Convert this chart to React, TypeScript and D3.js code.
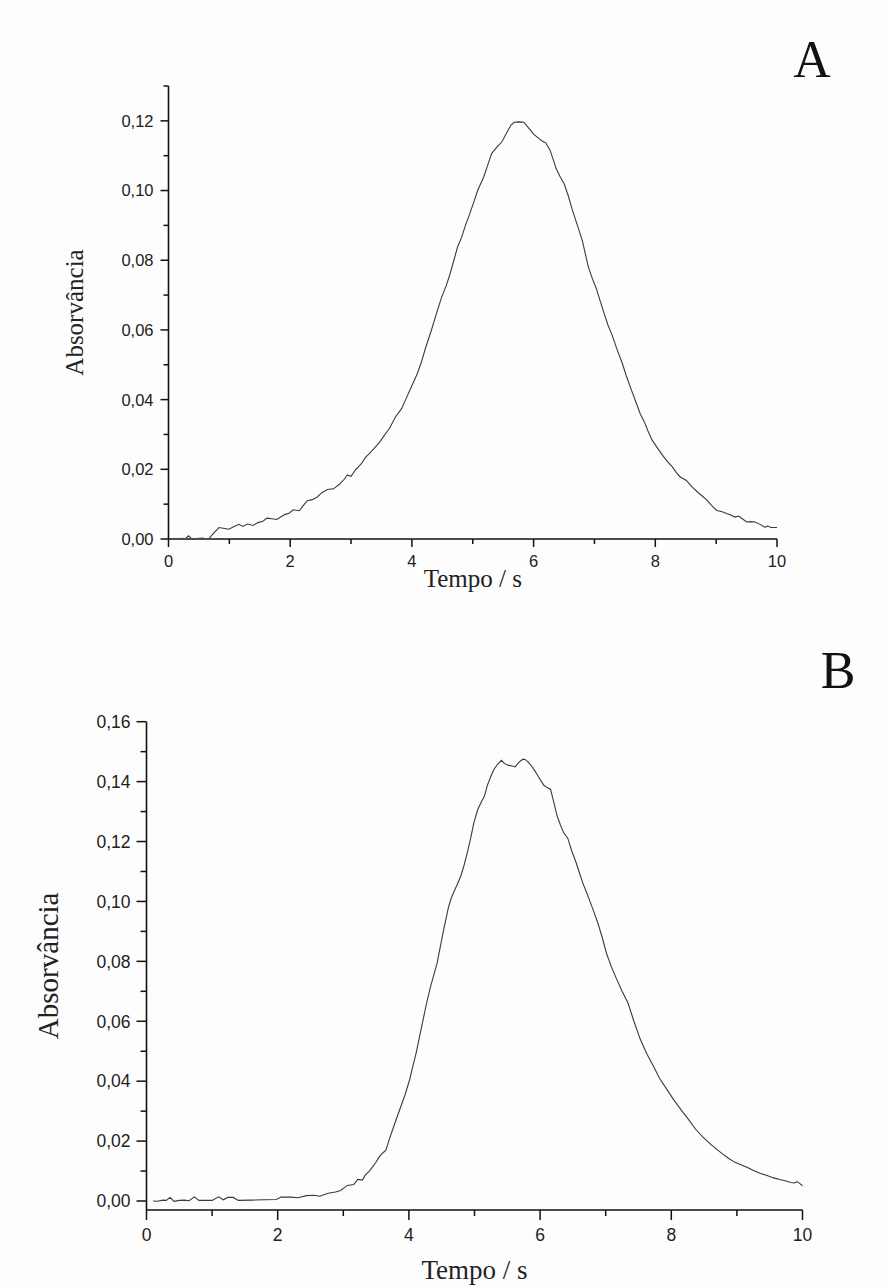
import React from "react";
import * as d3 from "d3";

const timeA = [0.2,0.28,0.33,0.38,0.45,0.5,0.55,0.6,0.66,0.75,0.83,0.9,0.99,1.08,1.16,1.22,1.3,1.39,1.47,1.55,1.62,1.7,1.78,1.85,1.91,1.98,2.05,2.15,2.22,2.28,2.36,2.44,2.52,2.61,2.71,2.81,2.88,2.94,3.0,3.08,3.17,3.24,3.3,3.38,3.47,3.55,3.63,3.73,3.83,3.91,3.99,4.09,4.16,4.22,4.32,4.42,4.49,4.56,4.62,4.69,4.75,4.82,4.88,4.95,5.02,5.08,5.18,5.25,5.31,5.4,5.48,5.58,5.63,5.68,5.76,5.84,5.94,6.0,6.07,6.14,6.2,6.27,6.32,6.37,6.44,6.5,6.57,6.63,6.72,6.8,6.9,6.97,7.03,7.1,7.16,7.22,7.29,7.37,7.46,7.52,7.59,7.69,7.75,7.82,7.88,7.95,8.04,8.12,8.2,8.28,8.35,8.41,8.47,8.51,8.6,8.71,8.78,8.84,8.92,9.01,9.1,9.17,9.24,9.31,9.37,9.43,9.5,9.57,9.64,9.72,9.8,9.85,9.9,10];
const absA = [0.0002,0.0001,0.0009,0.0001,0.0,0.0002,0.0003,0.0001,0.0,0.0018,0.0033,0.0031,0.0028,0.0036,0.0042,0.0036,0.0043,0.0039,0.0047,0.0051,0.006,0.0058,0.0056,0.0064,0.007,0.0074,0.0084,0.0081,0.0097,0.011,0.0113,0.012,0.0133,0.0142,0.0144,0.0157,0.017,0.0184,0.018,0.02,0.0216,0.0235,0.0245,0.026,0.0278,0.0298,0.0317,0.035,0.0374,0.0405,0.0436,0.0475,0.051,0.0546,0.0599,0.0656,0.0695,0.0725,0.0757,0.08,0.0838,0.0867,0.09,0.0933,0.0968,0.1,0.1039,0.1075,0.1106,0.1125,0.114,0.1173,0.1188,0.1196,0.1197,0.1196,0.1175,0.1162,0.1152,0.1142,0.1137,0.1116,0.109,0.1063,0.1038,0.102,0.0985,0.0948,0.09,0.0857,0.078,0.0745,0.0719,0.068,0.0647,0.0615,0.0585,0.0545,0.0503,0.047,0.0436,0.0389,0.036,0.0336,0.031,0.0283,0.026,0.024,0.0222,0.0207,0.019,0.0178,0.0172,0.0168,0.015,0.0132,0.0122,0.0113,0.0097,0.0082,0.0078,0.0073,0.0069,0.0063,0.0066,0.0058,0.0049,0.005,0.0049,0.0042,0.0034,0.0037,0.0033,0.0033];

const timeB = [0.1,0.17,0.25,0.3,0.36,0.42,0.5,0.58,0.65,0.73,0.8,0.9,1.0,1.1,1.17,1.24,1.32,1.4,1.6,1.8,1.98,2.05,2.2,2.31,2.44,2.55,2.64,2.77,2.88,2.96,3.06,3.16,3.22,3.29,3.34,3.39,3.45,3.5,3.55,3.61,3.65,3.7,3.75,3.84,3.94,4.01,4.06,4.11,4.2,4.27,4.33,4.38,4.43,4.48,4.53,4.6,4.64,4.69,4.74,4.79,4.84,4.89,4.94,4.99,5.05,5.1,5.15,5.2,5.25,5.3,5.35,5.41,5.46,5.51,5.57,5.62,5.66,5.7,5.74,5.77,5.82,5.87,5.92,5.97,6.02,6.06,6.11,6.16,6.21,6.26,6.31,6.36,6.42,6.48,6.55,6.6,6.65,6.7,6.75,6.82,6.88,6.95,7.01,7.09,7.17,7.25,7.34,7.43,7.53,7.63,7.73,7.82,7.92,8.03,8.15,8.27,8.38,8.48,8.58,8.68,8.77,8.87,8.97,9.07,9.17,9.26,9.36,9.46,9.55,9.65,9.75,9.82,9.88,9.92,9.96,10];
const absB = [0.0,-0.0001,0.0003,0.0002,0.0012,-0.0001,0.0002,0.0003,0.0001,0.0014,0.0002,0.0002,0.0002,0.0014,0.0004,0.0012,0.0012,0.0002,0.0003,0.0004,0.0005,0.0013,0.0013,0.0011,0.0018,0.0019,0.0016,0.0026,0.003,0.0035,0.0052,0.0055,0.0072,0.007,0.0088,0.0098,0.0115,0.013,0.0148,0.0162,0.017,0.0205,0.0237,0.0293,0.0354,0.0404,0.045,0.0494,0.0588,0.0661,0.0716,0.0755,0.0794,0.085,0.0906,0.0978,0.1008,0.1034,0.1058,0.1084,0.112,0.1162,0.121,0.1262,0.1307,0.133,0.1351,0.139,0.1418,0.1442,0.1457,0.1471,0.146,0.1455,0.1452,0.1449,0.146,0.1469,0.1475,0.1474,0.1465,0.1452,0.1436,0.1418,0.14,0.1387,0.138,0.1374,0.133,0.1285,0.1255,0.1229,0.1212,0.117,0.1129,0.1095,0.1062,0.1035,0.1006,0.0965,0.0928,0.0878,0.0828,0.078,0.0739,0.07,0.0661,0.06,0.0538,0.049,0.0449,0.041,0.0377,0.034,0.0304,0.027,0.0237,0.0214,0.0193,0.0175,0.0159,0.0143,0.0129,0.012,0.0111,0.0101,0.0092,0.0085,0.0078,0.0072,0.0067,0.0062,0.006,0.0065,0.0058,0.0051];

const xMajorTicks = [0, 2, 4, 6, 8, 10];
const xMinorTicks = [1, 3, 5, 7, 9];
const yMajorTicksA = [0, 0.02, 0.04, 0.06, 0.08, 0.1, 0.12];
const yMinorTicksA = [0.01, 0.03, 0.05, 0.07, 0.09, 0.11, 0.13];
const yMajorTicksB = [0, 0.02, 0.04, 0.06, 0.08, 0.1, 0.12, 0.14, 0.16];
const yMinorTicksB = [0.01, 0.03, 0.05, 0.07, 0.09, 0.11, 0.13, 0.15];

const panelLetters = ["A", "B"];
const xTitle = "Tempo / s";
const yTitle = "Absorvância";

const fmtY = (v: number) => v.toFixed(2).replace(".", ",");

type PanelProps = {
  times: number[];
  values: number[];
  xDomain: [number, number];
  yDomain: [number, number];
  xRange: [number, number];
  yRange: [number, number];
  yMajor: number[];
  yMinor: number[];
  tickFont: number;
  majorLen: number;
  minorLen: number;
  yLabelGap: number;
  xLabelDy: number;
  yTitleX: number;
  yTitleSize: number;
  xTitleY: number;
  xTitleSize: number;
  letter: string;
  letterX: number;
  letterY: number;
};

function Panel(p: PanelProps) {
  const x = d3.scaleLinear().domain(p.xDomain).range(p.xRange);
  const y = d3.scaleLinear().domain(p.yDomain).range(p.yRange);
  const pts = p.times.map((t, i) => [t, p.values[i]] as [number, number]);
  const line = d3
    .line<[number, number]>()
    .x((d) => x(d[0]))
    .y((d) => y(d[1]));
  const x0 = x(p.xDomain[0]);
  const x1 = x(p.xDomain[1]);
  const yb = y(p.yDomain[0]);
  const yt = y(p.yDomain[1]);
  const clipId = "clip" + p.letter;
  const tickFontFamily = "'Liberation Sans', Arial, sans-serif";
  const serif = "'Liberation Serif', 'Times New Roman', serif";
  return (
    <g>
      <defs>
        <clipPath id={clipId}>
          <rect x={x0} y={yt - 2} width={x1 - x0 + 2} height={yb - yt + 1} />
        </clipPath>
      </defs>
      <path
        d={line(pts) || ""}
        fill="none"
        stroke="#3a3a3a"
        strokeWidth={1.1}
        clipPath={`url(#${clipId})`}
      />
      <line x1={x0} x2={x1} y1={yb} y2={yb} stroke="#111" strokeWidth={1.6} />
      <line x1={x0} x2={x0} y1={yb} y2={yt} stroke="#111" strokeWidth={1.6} />
      {xMajorTicks.map((t) => (
        <g key={"xM" + t}>
          <line x1={x(t)} x2={x(t)} y1={yb} y2={yb + p.majorLen} stroke="#111" strokeWidth={1.5} />
          <text
            x={x(t)}
            y={yb + p.xLabelDy}
            textAnchor="middle"
            fontFamily={tickFontFamily}
            fontSize={p.tickFont}
            fill="#222"
          >
            {String(t)}
          </text>
        </g>
      ))}
      {xMinorTicks.map((t) => (
        <line key={"xm" + t} x1={x(t)} x2={x(t)} y1={yb} y2={yb + p.minorLen} stroke="#111" strokeWidth={1.5} />
      ))}
      {p.yMajor.map((v) => (
        <g key={"yM" + v}>
          <line x1={x0 - p.majorLen} x2={x0} y1={y(v)} y2={y(v)} stroke="#111" strokeWidth={1.5} />
          <text
            x={x0 - p.yLabelGap}
            y={y(v)}
            dy="0.36em"
            textAnchor="end"
            fontFamily={tickFontFamily}
            fontSize={p.tickFont}
            fill="#222"
          >
            {fmtY(v)}
          </text>
        </g>
      ))}
      {p.yMinor.map((v) => (
        <line key={"ym" + v} x1={x0 - p.minorLen} x2={x0} y1={y(v)} y2={y(v)} stroke="#111" strokeWidth={1.5} />
      ))}
      <text
        transform={`translate(${p.yTitleX},${(yb + yt) / 2}) rotate(-90)`}
        textAnchor="middle"
        fontFamily={serif}
        fontSize={p.yTitleSize}
        fill="#222"
      >
        {yTitle}
      </text>
      <text
        x={(x0 + x1) / 2}
        y={p.xTitleY}
        textAnchor="middle"
        fontFamily={serif}
        fontSize={p.xTitleSize}
        fill="#222"
      >
        {xTitle}
      </text>
      <text
        x={p.letterX}
        y={p.letterY}
        textAnchor="middle"
        fontFamily={serif}
        fontSize={52}
        fill="#111"
      >
        {p.letter}
      </text>
    </g>
  );
}

export default function App() {
  return (
    <svg
      width={886}
      height={1287}
      style={{ position: "absolute", left: 0, top: 0, background: "#fdfdfd" }}
    >
      <rect width={886} height={1287} fill="#fdfdfd" />
      <Panel
        times={timeA}
        values={absA}
        xDomain={[0, 10]}
        yDomain={[0, 0.13]}
        xRange={[168.5, 777]}
        yRange={[539, 86]}
        yMajor={yMajorTicksA}
        yMinor={yMinorTicksA}
        tickFont={16.5}
        majorLen={8}
        minorLen={5}
        yLabelGap={15}
        xLabelDy={28}
        yTitleX={83}
        yTitleSize={25}
        xTitleY={587}
        xTitleSize={25}
        letter={panelLetters[0]}
        letterX={812}
        letterY={77}
      />
      <Panel
        times={timeB}
        values={absB}
        xDomain={[0, 10]}
        yDomain={[-0.003, 0.16]}
        xRange={[146.5, 802.5]}
        yRange={[1210, 721.7]}
        yMajor={yMajorTicksB}
        yMinor={yMinorTicksB}
        tickFont={17.5}
        majorLen={10}
        minorLen={6}
        yLabelGap={16}
        xLabelDy={31}
        yTitleX={58}
        yTitleSize={29}
        xTitleY={1279}
        xTitleSize={27}
        letter={panelLetters[1]}
        letterX={838}
        letterY={688}
      />
    </svg>
  );
}
